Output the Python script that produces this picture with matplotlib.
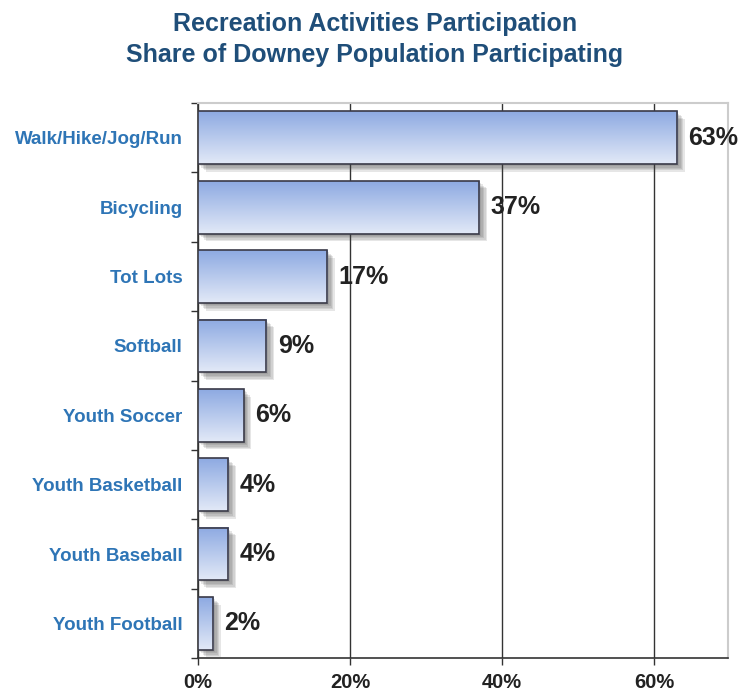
import matplotlib.pyplot as plt
import matplotlib.patheffects as pe
import numpy as np
from matplotlib.colors import LinearSegmentedColormap

plt.rcParams['font.family'] = ['Liberation Sans', 'DejaVu Sans']

activities = ['Walk/Hike/Jog/Run', 'Bicycling', 'Tot Lots', 'Softball', 'Youth Soccer',
              'Youth Basketball', 'Youth Baseball', 'Youth Football']
share = [63, 37, 17, 9, 6, 4, 4, 2]
xticks = [0, 20, 40, 60]
xtick_labels = ['0%', '20%', '40%', '60%']

title = 'Recreation Activities Participation\nShare of Downey Population Participating'

fig = plt.figure(figsize=(7.47, 6.92), dpi=100)
ax = fig.add_axes([0.265, 0.049, 0.7096, 0.802])

n = len(activities)
ypos = np.arange(n)[::-1]
h = 0.76

# gradient fill inside each bar
grad = LinearSegmentedColormap.from_list('g', ['#e2e9f7', '#8eaae2'])
gimg = np.linspace(0, 1, 64).reshape(-1, 1)

# soft shadow: a few stacked faint offset copies
shadow = [pe.SimplePatchShadow(offset=(o, -o), shadow_rgbFace='#444444', alpha=0.13)
          for o in (5.5, 4.5, 3.5, 2.5, 1.5)]
ax.barh(ypos, share, height=h, color='white', edgecolor='none', zorder=2,
        path_effects=shadow + [pe.Normal()])
for y, v in zip(ypos, share):
    ax.imshow(gimg, cmap=grad, aspect='auto', origin='lower', zorder=3,
              extent=(0, v, y - h / 2, y + h / 2), interpolation='bilinear')
ax.barh(ypos, share, height=h, color='none', edgecolor='#3a3a48', linewidth=1.2, zorder=4)

for y, v in zip(ypos, share):
    ax.text(v + 1.5, y, f'{v}%', va='center', ha='left', fontsize=18,
            fontweight='bold', color='#222222', zorder=5)

ax.set_xlim(0, 69.7)
ax.set_ylim(-0.5, n - 0.5)
ax.set_xticks(xticks)
ax.set_xticklabels(xtick_labels, fontsize=14.5, fontweight='bold', color='#222222')
ax.set_yticks(ypos)
ax.set_yticklabels(activities, fontsize=13.5, fontweight='bold', color='#2e75b6')
ax.set_yticks(np.arange(-0.5, n, 1), minor=True)
ax.tick_params(axis='y', which='major', length=0, pad=11)
ax.tick_params(axis='y', which='minor', length=5, width=1, color='#333333')
ax.tick_params(axis='x', length=5, width=1, color='#333333', pad=6)

ax.grid(axis='x', color='#333333', linewidth=1, zorder=0)
ax.set_axisbelow(True)
for s in ['left', 'bottom']:
    ax.spines[s].set_color('#333333')
    ax.spines[s].set_linewidth(1.2)
for s in ['top', 'right']:
    ax.spines[s].set_color('#cccccc')
    ax.spines[s].set_linewidth(1.5)

fig.text(0.502, 0.982, title, ha='center', va='top', fontsize=18, fontweight='bold',
         color='#1f4e79', linespacing=1.35)

fig.savefig('out.png', dpi=100)
